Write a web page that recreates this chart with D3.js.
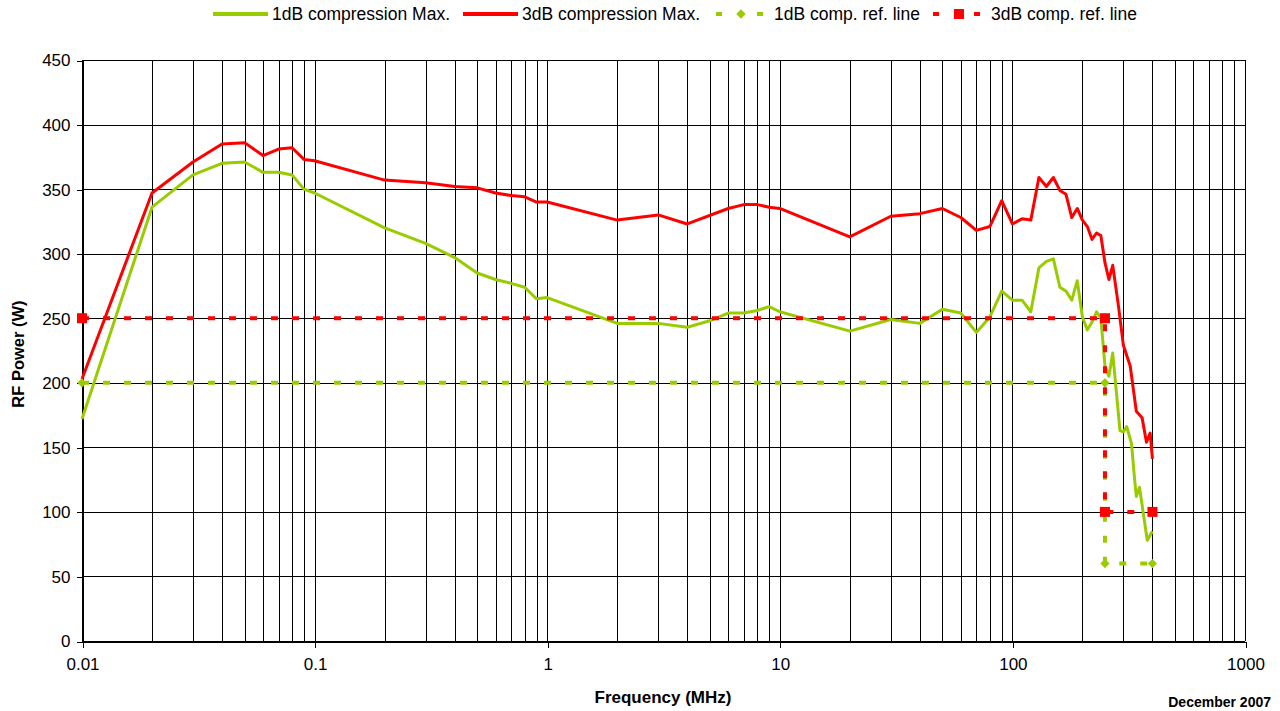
<!DOCTYPE html>
<html>
<head>
<meta charset="utf-8">
<script src="https://cdn.jsdelivr.net/npm/d3@7"></script>
<style>
  body { margin: 0; background: #fff; }
  svg text { font-family: "Liberation Sans", Arial, sans-serif; }
</style>
</head>
<body>
<svg id="chart" width="1280" height="711"></svg>
<script>
// 1dB compression max (MHz, W)
var freq1dB = [0.01, 0.02, 0.03, 0.04, 0.05, 0.06, 0.07, 0.08, 0.09, 0.1,
  0.2, 0.3, 0.4, 0.5, 0.6, 0.7, 0.8, 0.9, 1,
  2, 3, 4, 5, 6, 7, 8, 9, 10,
  20, 30, 40, 50, 60, 70, 80, 90, 100,
  110, 120, 130, 140, 150, 160, 170, 180, 190, 200, 210, 220, 230, 240,
  250, 260, 270, 290, 300, 310, 325, 335, 341, 352, 380, 400];
var power1dB = [172, 336, 361, 370, 371, 363, 363, 361, 350, 347,
  320, 308, 297, 285, 280, 277, 274, 265, 266,
  246, 246, 243, 248, 254, 254, 256, 259, 255,
  240, 249, 246, 257, 254, 239, 251, 271, 264,
  264, 255, 289, 294, 296, 274, 271, 264, 279, 251, 241, 247, 255, 250,
  213, 205, 223, 163, 162, 166, 153, 126, 112, 119, 78, 85];

// 3dB compression max
var freq3dB = [0.01, 0.02, 0.03, 0.04, 0.05, 0.06, 0.07, 0.08, 0.09, 0.1,
  0.2, 0.3, 0.4, 0.5, 0.6, 0.7, 0.8, 0.9, 1,
  2, 3, 4, 6, 7, 8, 9, 10,
  20, 30, 40, 50, 60, 70, 80, 90, 100,
  110, 120, 130, 140, 150, 160, 170, 180, 190, 200, 210, 220, 230, 240,
  250, 260, 270, 286, 300, 321, 341, 361, 377, 391, 400];
var power3dB = [203, 347, 371, 385, 386, 376, 381, 382, 373, 372,
  357, 355, 352, 351, 347, 345, 344, 340, 340,
  326, 330, 323, 335, 338, 338, 336, 335,
  313, 329, 331, 335, 328, 318, 321, 341, 323,
  327, 326, 359, 352, 359, 349, 346, 328, 335, 326, 321, 311, 316, 314,
  293, 280, 291, 259, 229, 213, 178, 173, 154, 161, 141];

// reference lines
var freqRef1dB = [0.01, 250, 250, 400];
var powerRef1dB = [200, 200, 60, 60];
var freqRef3dB = [0.01, 250, 250, 400];
var powerRef3dB = [250, 250, 100, 100];

var xTicks = [0.01, 0.1, 1, 10, 100, 1000];
var yTicks = [0, 50, 100, 150, 200, 250, 300, 350, 400, 450];

var green = '#99cc00', red = '#ff0000';

var svg = d3.select('#chart');
var mLeft = 82, mRight = 1245, mTop = 60, mBottom = 641;

var x = d3.scaleLog().domain([0.01, 1000]).range([mLeft, mRight]);
var y = d3.scaleLinear().domain([0, 450]).range([mBottom, mTop]);

// vertical grid: 1..9 in every decade
var gridX = [];
for (var dec = 0.01; dec < 1000; dec *= 10) {
  for (var k = 1; k <= 9; k++) gridX.push(+(dec * k).toPrecision(3));
}
gridX.push(1000);

var grid = svg.append('g').attr('shape-rendering', 'crispEdges');
grid.selectAll('line.v').data(gridX).enter().append('line')
  .attr('class', 'v')
  .attr('x1', function(d) { return Math.round(x(d)) + 0.5; })
  .attr('x2', function(d) { return Math.round(x(d)) + 0.5; })
  .attr('y1', mTop).attr('y2', mBottom)
  .style('stroke', '#000').style('stroke-width', 1);

grid.selectAll('line.h').data(yTicks).enter().append('line')
  .attr('class', 'h')
  .attr('x1', mLeft).attr('x2', mRight)
  .attr('y1', function(d) { return Math.round(y(d)) + 0.5; })
  .attr('y2', function(d) { return Math.round(y(d)) + 0.5; })
  .style('stroke', '#000').style('stroke-width', 1);

// axes
var yAxis = d3.axisLeft(y).tickValues(yTicks).tickSize(6).tickPadding(6);
var gy = svg.append('g')
  .attr('transform', 'translate(' + (mLeft + 0.5) + ',0.5)')
  .call(yAxis);
gy.selectAll('text').style('font-size', '17px').attr('fill', '#000');

var xAxis = d3.axisBottom(x).tickValues(xTicks).tickSize(6).tickPadding(10)
  .tickFormat(function(d) { return String(d); });
var gx = svg.append('g')
  .attr('transform', 'translate(0.5,' + (mBottom + 0.5) + ')')
  .call(xAxis);
gx.selectAll('text').style('font-size', '17px').attr('fill', '#000');
svg.selectAll('.domain').attr('stroke', '#000').attr('shape-rendering', 'crispEdges');
svg.selectAll('.tick line').attr('stroke', '#000').attr('shape-rendering', 'crispEdges');

// series
function pts(fs, vs) {
  return fs.map(function(f, i) { return [f, vs[i]]; });
}
var line = d3.line()
  .x(function(d) { return x(d[0]); })
  .y(function(d) { return y(d[1]); });

svg.append('path').datum(pts(freq1dB, power1dB))
  .attr('d', line).attr('fill', 'none')
  .attr('stroke', green).attr('stroke-width', 3).attr('stroke-linejoin', 'round');

svg.append('path').datum(pts(freq3dB, power3dB))
  .attr('d', line).attr('fill', 'none')
  .attr('stroke', red).attr('stroke-width', 3).attr('stroke-linejoin', 'round');

var ref1 = pts(freqRef1dB, powerRef1dB);
svg.append('path').datum(ref1)
  .attr('d', line).attr('fill', 'none')
  .attr('stroke', green).attr('stroke-width', 4).attr('stroke-dasharray', '7,14');
svg.selectAll('path.dia').data(ref1).enter().append('path')
  .attr('class', 'dia')
  .attr('d', d3.symbol().type(d3.symbolDiamond2).size(55))
  .attr('transform', function(d) { return 'translate(' + x(d[0]) + ',' + y(d[1]) + ')'; })
  .attr('fill', green);

var ref3 = pts(freqRef3dB, powerRef3dB);
svg.append('path').datum(ref3)
  .attr('d', line).attr('fill', 'none')
  .attr('stroke', red).attr('stroke-width', 4).attr('stroke-dasharray', '7,14');
svg.selectAll('rect.sq').data(ref3).enter().append('rect')
  .attr('class', 'sq')
  .attr('x', function(d) { return x(d[0]) - 5; })
  .attr('y', function(d) { return y(d[1]) - 5; })
  .attr('width', 10).attr('height', 10)
  .attr('fill', red);

// titles
svg.append('text').attr('x', 663).attr('y', 703)
  .attr('text-anchor', 'middle').style('font-size', '17px').style('font-weight', 'bold')
  .text('Frequency (MHz)');
svg.append('text').attr('transform', 'translate(24,354) rotate(-90)')
  .attr('text-anchor', 'middle').style('font-size', '16.5px').style('font-weight', 'bold')
  .text('RF Power (W)');
svg.append('text').attr('x', 1271).attr('y', 707)
  .attr('text-anchor', 'end').style('font-size', '14px').style('font-weight', 'bold')
  .text('December 2007');

// legend
var legend = svg.append('g').attr('transform', 'translate(0,14)');
var items = [
  { label: '1dB compression Max.', color: green, x: 213, dashed: false },
  { label: '3dB compression Max.', color: red, x: 463, dashed: false },
  { label: '1dB comp. ref. line', color: green, x: 716, dashed: true, mark: 'dia' },
  { label: '3dB comp. ref. line', color: red, x: 933, dashed: true, mark: 'sq' }
];
items.forEach(function(it) {
  var g = legend.append('g').attr('transform', 'translate(' + it.x + ',0)');
  if (!it.dashed) {
    g.append('line').attr('x1', 0).attr('x2', 55).attr('y1', 0).attr('y2', 0)
      .attr('stroke', it.color).attr('stroke-width', 4);
    g.append('text').attr('x', 59).attr('y', 6).style('font-size', '17.5px').text(it.label);
  } else {
    g.append('line').attr('x1', 0).attr('x2', 6).attr('y1', 0).attr('y2', 0)
      .attr('stroke', it.color).attr('stroke-width', 4);
    g.append('line').attr('x1', 41).attr('x2', 47).attr('y1', 0).attr('y2', 0)
      .attr('stroke', it.color).attr('stroke-width', 4);
    if (it.mark === 'dia') {
      g.append('path').attr('d', d3.symbol().type(d3.symbolDiamond2).size(55))
        .attr('transform', 'translate(25,0)').attr('fill', it.color);
    } else {
      g.append('rect').attr('x', 21).attr('y', -5).attr('width', 10).attr('height', 10)
        .attr('fill', it.color);
    }
    g.append('text').attr('x', 58).attr('y', 6).style('font-size', '17.5px').text(it.label);
  }
});
</script>
</body>
</html>
